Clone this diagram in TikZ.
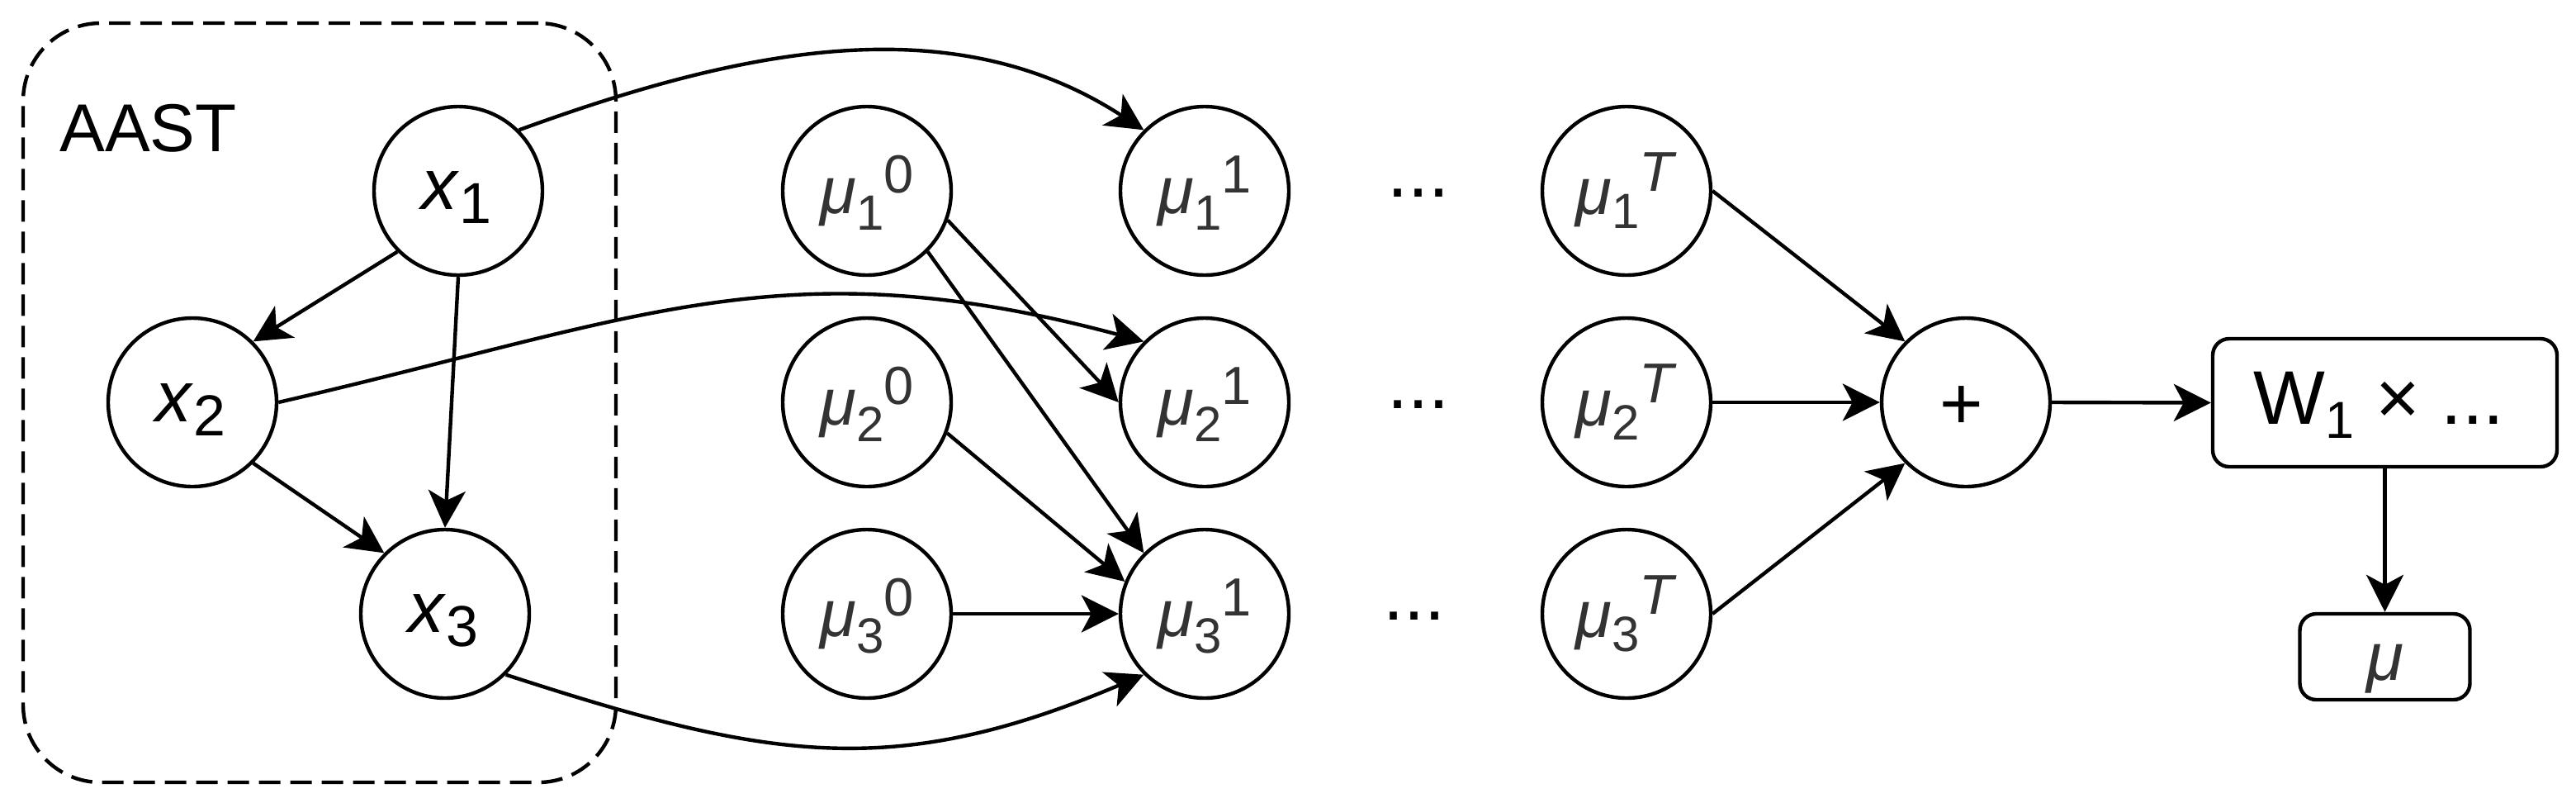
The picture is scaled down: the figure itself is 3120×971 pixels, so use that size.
\documentclass[tikz,border=0pt]{standalone}
\usepackage{fontspec}
\setmainfont{Liberation Sans}
\usetikzlibrary{arrows.meta}
\definecolor{mutext}{HTML}{333333}
\newcommand\xlab[1]{\fontsize{43.5pt}{44pt}\selectfont\textit{x}\raisebox{-8.5pt}{\fontsize{35pt}{35pt}\selectfont #1}}
\newcommand\mulab[2]{{\color{mutext}\fontsize{40pt}{40pt}\selectfont\textit{μ}\raisebox{-10pt}{\fontsize{30pt}{30pt}\selectfont #1}\raisebox{12.5pt}{\fontsize{32.5pt}{32.5pt}\selectfont #2}}}
\newcommand\mulabT[1]{{\color{mutext}\fontsize{40pt}{40pt}\selectfont\textit{μ}\raisebox{-8.5pt}{\fontsize{30pt}{30pt}\selectfont #1}\raisebox{14pt}{\fontsize{34pt}{34pt}\selectfont\textit{T}}}}
\tikzset{
  circ/.style={circle, draw, line width=2.2pt, minimum size=102pt, inner sep=0pt},
  txt/.style={anchor=base, inner sep=0pt},
  arr/.style={-{Stealth[length=22.5pt, width=22.5pt, inset=6pt]}, line width=2.2pt},
  dotsnode/.style={anchor=base, inner sep=0pt, font=\fontsize{45pt}{45pt}\selectfont},
  rbox/.style={draw, line width=2.2pt, rounded corners=10pt, inner sep=0pt},
}
\begin{document}
\begin{tikzpicture}[x=0.5pt, y=-0.5pt]
\useasboundingbox (0,0) rectangle (3120,971);
% group box
\node[draw, dashed, dash pattern=on 13pt off 6pt, line width=2.2pt, rounded corners=47pt,
      minimum width=359pt, minimum height=459.5pt, inner sep=0pt] (aastbox) at (387,487.5) {};
\node[anchor=base west, inner sep=0pt, font=\fontsize{41pt}{41pt}\selectfont] (aast) at (72,183) {AAST};
% x nodes
\node[circ] (x1) at (555,231) {};
\node[circ] (x2) at (233,487) {};
\node[circ] (x3) at (539,743) {};
\node[txt] (x1t) at (553,253) {\xlab{1}};
\node[txt] (x2t) at (231,510) {\xlab{2}};
\node[txt] (x3t) at (537,765) {\xlab{3}};
% mu^0
\node[circ] (m10) at (1050,231) {};
\node[circ] (m20) at (1050,487) {};
\node[circ] (m30) at (1050,743) {};
\node[txt] (m10t) at (1050,258) {\mulab{1}{0}};
\node[txt] (m20t) at (1050,514) {\mulab{2}{0}};
\node[txt] (m30t) at (1050,770) {\mulab{3}{0}};
% mu^1
\node[circ] (m11) at (1459,231) {};
\node[circ] (m21) at (1459,487) {};
\node[circ] (m31) at (1459,743) {};
\node[txt] (m11t) at (1459,258) {\mulab{1}{1}};
\node[txt] (m21t) at (1459,514) {\mulab{2}{1}};
\node[txt] (m31t) at (1459,770) {\mulab{3}{1}};
% dots
\node[dotsnode] (d1) at (1718,238) {...};
\node[dotsnode] (d2) at (1718,494) {...};
\node[dotsnode] (d3) at (1713,750) {...};
% mu^T
\node[circ] (m1T) at (1970,231) {};
\node[circ] (m2T) at (1970,487) {};
\node[circ] (m3T) at (1970,743) {};
\node[txt] (m1Tt) at (1970,259) {\mulabT{1}};
\node[txt] (m2Tt) at (1970,515) {\mulabT{2}};
\node[txt] (m3Tt) at (1970,771) {\mulabT{3}};
% plus
\node[circ] (plus) at (2381,487) {};
\node[txt, font=\fontsize{45pt}{45pt}\selectfont] (plust) at (2376,519) {+};
% W box
\node[rbox, minimum width=208.5pt, minimum height=77.5pt] (wbox) at (2888.5,487.5) {};
\node[txt, font=\fontsize{46pt}{46pt}\selectfont] (wboxt) at (2881.5,513) {W\raisebox{-8.5pt}{\fontsize{31.5pt}{31.5pt}\selectfont 1} × ...};
\node[rbox, minimum width=103pt, minimum height=52pt] (mubox) at (2888.5,795) {};
\node[txt, font=\fontsize{41pt}{41pt}\selectfont] (muboxt) at (2888.5,823) {\color{mutext}\textit{μ}};
% connectors in AAST
\draw[arr] (x1.225) -- (x2.45);
\draw[arr] (x1.south) -- (x3.north);
\draw[arr] (x2.-45) -- (x3.135);
% curves
\draw[arr] (x1.45) to[out=20, in=147, looseness=0.95] (m11.135);
\draw[arr] (x2.east) to[out=13, in=165, looseness=1.1] (m21.135);
\draw[arr] (x3.-45) to[out=-18, in=-157, looseness=1.1] (m31.225);
% mu^0 -> mu^1
\draw[arr] (m10.-20) -- (m21.west);
\draw[arr] (m10.-45) -- (m31.135);
\draw[arr] (m20.-21) -- (m31.158);
\draw[arr] (m30.east) -- (m31.west);
% mu^T -> plus
\draw[arr] (m1T.east) -- (plus.135);
\draw[arr] (m2T.east) -- (plus.west);
\draw[arr] (m3T.east) -- (plus.225);
\draw[arr] (plus.east) -- (wbox.west);
\draw[arr] (wbox.south) -- (mubox.north);
\end{tikzpicture}
\end{document}
